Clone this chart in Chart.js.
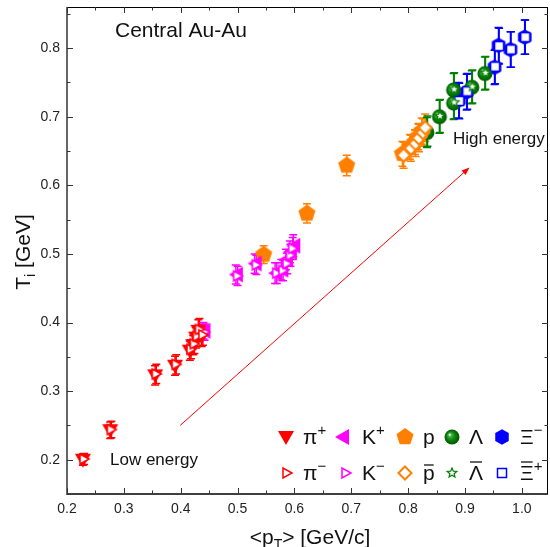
<!DOCTYPE html>
<html>
<head>
<meta charset="utf-8">
<script src="https://cdn.jsdelivr.net/npm/chart.js@4.4.1/dist/chart.umd.min.js"></script>
<style>
  html, body { margin: 0; padding: 0; background: #fff; }
</style>
</head>
<body>
<canvas id="chart" width="550" height="547"></canvas>
<script>
// tick labels
const xTickValues = [0.2, 0.3, 0.4, 0.5, 0.6, 0.7, 0.8, 0.9, 1.0];
const yTickValues = [0.2, 0.3, 0.4, 0.5, 0.6, 0.7, 0.8];

// pi+ / pi-
const piPlusPt  = [0.228, 0.276, 0.355, 0.390, 0.416, 0.422, 0.427, 0.431, 0.437];
const piPlusT   = [0.200, 0.243, 0.323, 0.337, 0.359, 0.367, 0.378, 0.388, 0.380];
const piPlusErr = [0.008, 0.012, 0.014, 0.014, 0.014, 0.014, 0.015, 0.016, 0.015];
const piMinusPt  = [0.230, 0.278, 0.357, 0.392, 0.418, 0.424, 0.429, 0.433, 0.439];
const piMinusT   = [0.201, 0.244, 0.325, 0.339, 0.361, 0.369, 0.380, 0.390, 0.382];
const piMinusErr = [0.008, 0.012, 0.014, 0.014, 0.014, 0.014, 0.015, 0.016, 0.015];

// K+ / K-
const kPlusPt  = [0.440, 0.497, 0.530, 0.566, 0.577, 0.585, 0.592, 0.598];
const kPlusT   = [0.388, 0.470, 0.486, 0.472, 0.477, 0.492, 0.503, 0.512];
const kPlusErr = [0.012, 0.014, 0.014, 0.015, 0.015, 0.015, 0.016, 0.016];
const kMinusPt  = [0.442, 0.500, 0.533, 0.569, 0.580, 0.587, 0.593, 0.597];
const kMinusT   = [0.386, 0.468, 0.484, 0.472, 0.476, 0.486, 0.498, 0.508];
const kMinusErr = [0.012, 0.014, 0.014, 0.015, 0.015, 0.015, 0.016, 0.016];

// p / pbar
const pPt  = [0.546, 0.622, 0.692, 0.790, 0.803, 0.812, 0.818, 0.824];
const pT   = [0.499, 0.559, 0.629, 0.646, 0.656, 0.663, 0.671, 0.679];
const pErr = [0.013, 0.014, 0.015, 0.018, 0.018, 0.018, 0.019, 0.019];
const pbarPt  = [0.792, 0.805, 0.813, 0.819, 0.826, 0.830];
const pbarT   = [0.644, 0.654, 0.661, 0.669, 0.677, 0.684];
const pbarErr = [0.019, 0.019, 0.019, 0.020, 0.020, 0.020];

// Lambda / anti-Lambda
const lamPt  = [0.833, 0.855, 0.880, 0.880, 0.912, 0.935];
const lamT   = [0.677, 0.700, 0.720, 0.739, 0.743, 0.763];
const lamErr = [0.022, 0.024, 0.024, 0.024, 0.024, 0.024];
const alamPt  = [0.834, 0.856, 0.881, 0.881, 0.913, 0.936];
const alamT   = [0.679, 0.701, 0.721, 0.740, 0.744, 0.764];
const alamErr = [0.022, 0.024, 0.024, 0.024, 0.024, 0.024];

// Xi- / anti-Xi+
const xiPt  = [0.889, 0.903, 0.952, 0.959, 0.980, 1.005];
const xiT   = [0.724, 0.736, 0.772, 0.804, 0.798, 0.816];
const xiErr = [0.026, 0.026, 0.025, 0.026, 0.026, 0.025];
const axiPt  = [0.890, 0.904, 0.953, 0.960, 0.981, 1.006];
const axiT   = [0.723, 0.737, 0.773, 0.803, 0.798, 0.816];
const axiErr = [0.026, 0.026, 0.025, 0.026, 0.026, 0.025];

// arrow from low to high energy
const arrowFrom = [0.399, 0.250];
const arrowTo = [0.908, 0.626];

const FONT = '"Liberation Sans", Arial, sans-serif';

function toPoints(xs, ys) {
  return xs.map((x, i) => ({ x: x, y: ys[i] }));
}

function makeMarker(size, paint) {
  const c = document.createElement("canvas");
  c.width = size;
  c.height = size;
  const g = c.getContext("2d");
  g.translate(size / 2, size / 2);
  paint(g);
  return c;
}

function poly(g, n, r, rot) {
  g.beginPath();
  for (let i = 0; i < n; i++) {
    const a = rot + (i * 2 * Math.PI) / n;
    const px = r * Math.cos(a), py = r * Math.sin(a);
    if (i === 0) g.moveTo(px, py); else g.lineTo(px, py);
  }
  g.closePath();
}

function tri(g, pts) {
  g.beginPath();
  g.moveTo(pts[0][0], pts[0][1]);
  g.lineTo(pts[1][0], pts[1][1]);
  g.lineTo(pts[2][0], pts[2][1]);
  g.closePath();
}

const mPiPlus = makeMarker(20, g => {
  tri(g, [[-8, -6], [8, -6], [0, 8]]);
  g.fillStyle = "#ff0000"; g.fill();
});
const mPiMinus = makeMarker(16, g => {
  tri(g, [[-4, -5], [-4, 5], [5, 0]]);
  g.fillStyle = "#fff"; g.fill();
  g.strokeStyle = "#ff0000"; g.lineWidth = 1.5; g.stroke();
});
const mKPlus = makeMarker(20, g => {
  tri(g, [[7, -8], [7, 8], [-7, 0]]);
  g.fillStyle = "#ff00ff"; g.fill();
});
const mKMinus = makeMarker(16, g => {
  tri(g, [[-4, -5], [-4, 5], [5, 0]]);
  g.fillStyle = "#fff"; g.fill();
  g.strokeStyle = "#ff00ff"; g.lineWidth = 1.5; g.stroke();
});
const mP = makeMarker(22, g => {
  poly(g, 5, 9, -Math.PI / 2);
  g.fillStyle = "#ff8000"; g.fill();
});
const mPbar = makeMarker(18, g => {
  poly(g, 4, 6.5, -Math.PI / 2);
  g.fillStyle = "#fff"; g.fill();
  g.strokeStyle = "#ff8000"; g.lineWidth = 2; g.stroke();
});
const mLam = makeMarker(18, g => {
  const grad = g.createRadialGradient(-2.5, -2.5, 0.3, 0, 0, 7.5);
  grad.addColorStop(0, "#e8ffe8");
  grad.addColorStop(0.22, "#40a840");
  grad.addColorStop(0.6, "#078007");
  grad.addColorStop(1, "#005500");
  g.beginPath(); g.arc(0, 0, 7.5, 0, 2 * Math.PI);
  g.fillStyle = grad; g.fill();
});
const mAlam = makeMarker(14, g => {
  g.beginPath();
  for (let i = 0; i < 10; i++) {
    const r = i % 2 === 0 ? 5 : 2.2;
    const a = -Math.PI / 2 + (i * Math.PI) / 5;
    const px = r * Math.cos(a), py = r * Math.sin(a);
    if (i === 0) g.moveTo(px, py); else g.lineTo(px, py);
  }
  g.closePath();
  g.fillStyle = "#fff"; g.fill();
  g.strokeStyle = "#008000"; g.lineWidth = 1.2; g.stroke();
});
const mXi = makeMarker(20, g => {
  poly(g, 6, 7.8, -Math.PI / 2);
  g.fillStyle = "#0000ff"; g.fill();
});
const mAxi = makeMarker(14, g => {
  g.fillStyle = "#fff"; g.fillRect(-4.5, -4.5, 9, 9);
  g.strokeStyle = "#0000ff"; g.lineWidth = 1.5; g.strokeRect(-4.5, -4.5, 9, 9);
});

function series(label, xs, ys, errs, color, marker, order) {
  return {
    label: label,
    data: toPoints(xs, ys),
    errs: errs,
    barColor: color,
    pointStyle: marker,
    pointRadius: 6,
    pointHoverRadius: 6,
    showLine: false,
    order: order,
  };
}

const datasets = [
  series("π+", piPlusPt, piPlusT, piPlusErr, "#ff0000", mPiPlus, 2),
  series("π−", piMinusPt, piMinusT, piMinusErr, "#ff0000", mPiMinus, 1),
  series("K+", kPlusPt, kPlusT, kPlusErr, "#ff00ff", mKPlus, 2),
  series("K−", kMinusPt, kMinusT, kMinusErr, "#ff00ff", mKMinus, 1),
  series("p", pPt, pT, pErr, "#ff8000", mP, 2),
  series("p̄", pbarPt, pbarT, pbarErr, "#ff8000", mPbar, 1),
  series("Λ", lamPt, lamT, lamErr, "#008000", mLam, 2),
  series("Λ̄", alamPt, alamT, alamErr, "#008000", mAlam, 1),
  series("Ξ−", xiPt, xiT, xiErr, "#0000ff", mXi, 2),
  series("Ξ̄+", axiPt, axiT, axiErr, "#0000ff", mAxi, 1),
];

// text with sub/superscripts and overbars
function drawRich(ctx, x, y, parts, measureOnly) {
  let cx = x;
  parts.forEach(p => {
    ctx.font = p.size + "px " + FONT;
    const w = ctx.measureText(p.t).width;
    if (!measureOnly) {
      ctx.fillText(p.t, cx, y + (p.dy || 0));
      if (p.bar) {
        ctx.save();
        ctx.lineWidth = 1.3;
        ctx.beginPath();
        ctx.moveTo(cx + 1, y - p.bar);
        ctx.lineTo(cx + w - 1, y - p.bar);
        ctx.stroke();
        ctx.restore();
      }
    }
    cx += w;
  });
  return cx - x;
}

const legendRows = [
  [
    { m: mPiPlus, x: 286, label: [{ t: "π", size: 21 }, { t: "+", size: 15, dy: -9 }] },
    { m: mKPlus, x: 342, label: [{ t: "K", size: 21 }, { t: "+", size: 15, dy: -9 }] },
    { m: mP, x: 405, label: [{ t: "p", size: 21 }] },
    { m: mLam, x: 452, label: [{ t: "Λ", size: 21 }] },
    { m: mXi, x: 502, label: [{ t: "Ξ", size: 21 }, { t: "−", size: 15, dy: -9 }] },
  ],
  [
    { m: mPiMinus, x: 287, label: [{ t: "π", size: 21 }, { t: "−", size: 15, dy: -9 }] },
    { m: mKMinus, x: 346, label: [{ t: "K", size: 21 }, { t: "−", size: 15, dy: -9 }] },
    { m: mPbar, x: 405, label: [{ t: "p", size: 21, bar: 15 }] },
    { m: mAlam, x: 452, label: [{ t: "Λ", size: 21, bar: 18 }] },
    { m: mAxi, x: 502, label: [{ t: "Ξ", size: 21, bar: 18 }, { t: "+", size: 15, dy: -9 }] },
  ],
];
const legendLabelX = [303, 362, 423, 469, 520];
const legendRowY = [437, 473];

const overlay = {
  id: "overlay",
  beforeDatasetsDraw(chart) {
    const ctx = chart.ctx;
    const xs = chart.scales.x, ys = chart.scales.y;
    ctx.save();
    chart.data.datasets.forEach(ds => {
      ctx.strokeStyle = ds.barColor;
      ctx.lineWidth = 1.5;
      ds.data.forEach((pt, i) => {
        const e = ds.errs[i];
        const px = xs.getPixelForValue(pt.x);
        const top = ys.getPixelForValue(pt.y + e);
        const bot = ys.getPixelForValue(pt.y - e);
        ctx.beginPath();
        ctx.moveTo(px, top); ctx.lineTo(px, bot);
        ctx.moveTo(px - 4, top); ctx.lineTo(px + 4, top);
        ctx.moveTo(px - 4, bot); ctx.lineTo(px + 4, bot);
        ctx.stroke();
      });
    });
    ctx.restore();
  },
  afterDraw(chart) {
    const ctx = chart.ctx;
    const a = chart.chartArea;
    const xs = chart.scales.x, ys = chart.scales.y;
    ctx.save();

    // frame
    ctx.strokeStyle = "#000";
    ctx.lineWidth = 1;
    ctx.beginPath();
    ctx.moveTo(a.left, a.top + 0.5); ctx.lineTo(a.right, a.top + 0.5);
    ctx.moveTo(a.right - 0.5, a.top); ctx.lineTo(a.right - 0.5, a.bottom);
    ctx.stroke();
    ctx.lineWidth = 1.6;
    ctx.beginPath();
    ctx.moveTo(a.left, a.bottom); ctx.lineTo(a.right, a.bottom);
    ctx.stroke();
    ctx.strokeStyle = "#666";
    ctx.lineWidth = 2;
    ctx.beginPath();
    ctx.moveTo(a.left, a.top); ctx.lineTo(a.left, a.bottom + 1);
    ctx.stroke();

    // inward ticks, major and minor
    ctx.strokeStyle = "#333";
    ctx.lineWidth = 1;
    ctx.beginPath();
    for (let v = 0.2; v < 1.05; v += 0.05) {
      const major = Math.abs(v * 10 - Math.round(v * 10)) < 1e-6;
      const len = major ? 6 : 3.5;
      const px = Math.round(xs.getPixelForValue(v)) + 0.5;
      if (px > a.right - 1) continue;
      ctx.moveTo(px, a.bottom); ctx.lineTo(px, a.bottom - len);
      ctx.moveTo(px, a.top); ctx.lineTo(px, a.top + len);
    }
    for (let v = 0.15; v < 0.86; v += 0.05) {
      const major = Math.abs(v * 10 - Math.round(v * 10)) < 1e-6;
      const len = major ? 6 : 3.5;
      const py = Math.round(ys.getPixelForValue(v)) + 0.5;
      ctx.moveTo(a.left, py); ctx.lineTo(a.left + len, py);
      ctx.moveTo(a.right, py); ctx.lineTo(a.right - len, py);
    }
    ctx.stroke();

    // arrow
    const x0 = xs.getPixelForValue(arrowFrom[0]), y0 = ys.getPixelForValue(arrowFrom[1]);
    const x1 = xs.getPixelForValue(arrowTo[0]), y1 = ys.getPixelForValue(arrowTo[1]);
    const ang = Math.atan2(y1 - y0, x1 - x0);
    ctx.strokeStyle = "#ff0000";
    ctx.fillStyle = "#ff0000";
    ctx.lineWidth = 1;
    ctx.beginPath();
    ctx.moveTo(x0, y0); ctx.lineTo(x1 - 5 * Math.cos(ang), y1 - 5 * Math.sin(ang));
    ctx.stroke();
    ctx.beginPath();
    ctx.moveTo(x1, y1);
    ctx.lineTo(x1 - 8 * Math.cos(ang) + 3 * Math.sin(ang), y1 - 8 * Math.sin(ang) - 3 * Math.cos(ang));
    ctx.lineTo(x1 - 8 * Math.cos(ang) - 3 * Math.sin(ang), y1 - 8 * Math.sin(ang) + 3 * Math.cos(ang));
    ctx.closePath();
    ctx.fill();

    // annotations
    ctx.fillStyle = "#111";
    ctx.textBaseline = "alphabetic";
    ctx.textAlign = "left";
    ctx.font = "21px " + FONT;
    ctx.fillText("Central Au-Au", 115, 37);
    ctx.font = "17px " + FONT;
    ctx.fillText("High energy", 453, 144);
    ctx.fillText("Low energy", 110, 465);

    // legend
    ctx.strokeStyle = "#111";
    legendRows.forEach((row, r) => {
      row.forEach((item, k) => {
        ctx.drawImage(item.m, item.x - item.m.width / 2, legendRowY[r] - item.m.height / 2);
        drawRich(ctx, legendLabelX[k], legendRowY[r] + 7, item.label);
      });
    });

    // axis titles
    const xTitle = [
      { t: "<p", size: 21 }, { t: "T", size: 14, dy: 5 }, { t: "> [GeV/c]", size: 21 },
    ];
    const xw = drawRich(ctx, 0, 0, xTitle, true);
    drawRich(ctx, 310 - xw / 2, 544, xTitle);

    const yTitle = [
      { t: "T", size: 21 }, { t: "i", size: 14, dy: 5 }, { t: " [GeV]", size: 21 },
    ];
    const yw = drawRich(ctx, 0, 0, yTitle, true);
    ctx.translate(30, 252);
    ctx.rotate(-Math.PI / 2);
    drawRich(ctx, -yw / 2, 0, yTitle);

    ctx.restore();
  },
};

const config = {
  type: "scatter",
  data: { datasets: datasets },
  options: {
    responsive: false,
    animation: false,
    devicePixelRatio: 1,
    layout: { autoPadding: false, padding: { top: 7, right: 2, left: 0, bottom: 0 } },
    plugins: {
      legend: { display: false },
      tooltip: { enabled: false },
      title: { display: false },
    },
    scales: {
      x: {
        type: "linear",
        min: 0.2,
        max: 1.046,
        grid: { display: false, drawTicks: false },
        border: { display: false },
        afterBuildTicks: scale => { scale.ticks = xTickValues.map(v => ({ value: v })); },
        afterFit: scale => {
          scale.height = 53;
          scale.paddingLeft = 0;
          scale.paddingRight = 0;
        },
        ticks: {
          padding: 7,
          color: "#222",
          font: { family: FONT, size: 14 },
          callback: v => v.toFixed(1),
        },
      },
      y: {
        type: "linear",
        min: 0.15,
        max: 0.86,
        grid: { display: false, drawTicks: false },
        border: { display: false },
        afterBuildTicks: scale => { scale.ticks = yTickValues.map(v => ({ value: v })); },
        afterFit: scale => {
          scale.width = 67;
          scale.paddingTop = 0;
          scale.paddingBottom = 0;
        },
        ticks: {
          padding: 7,
          color: "#222",
          font: { family: FONT, size: 14 },
          callback: v => v.toFixed(1),
        },
      },
    },
  },
  plugins: [overlay],
};

const tempChart = new Chart(document.getElementById("chart"), config);
</script>
</body>
</html>
